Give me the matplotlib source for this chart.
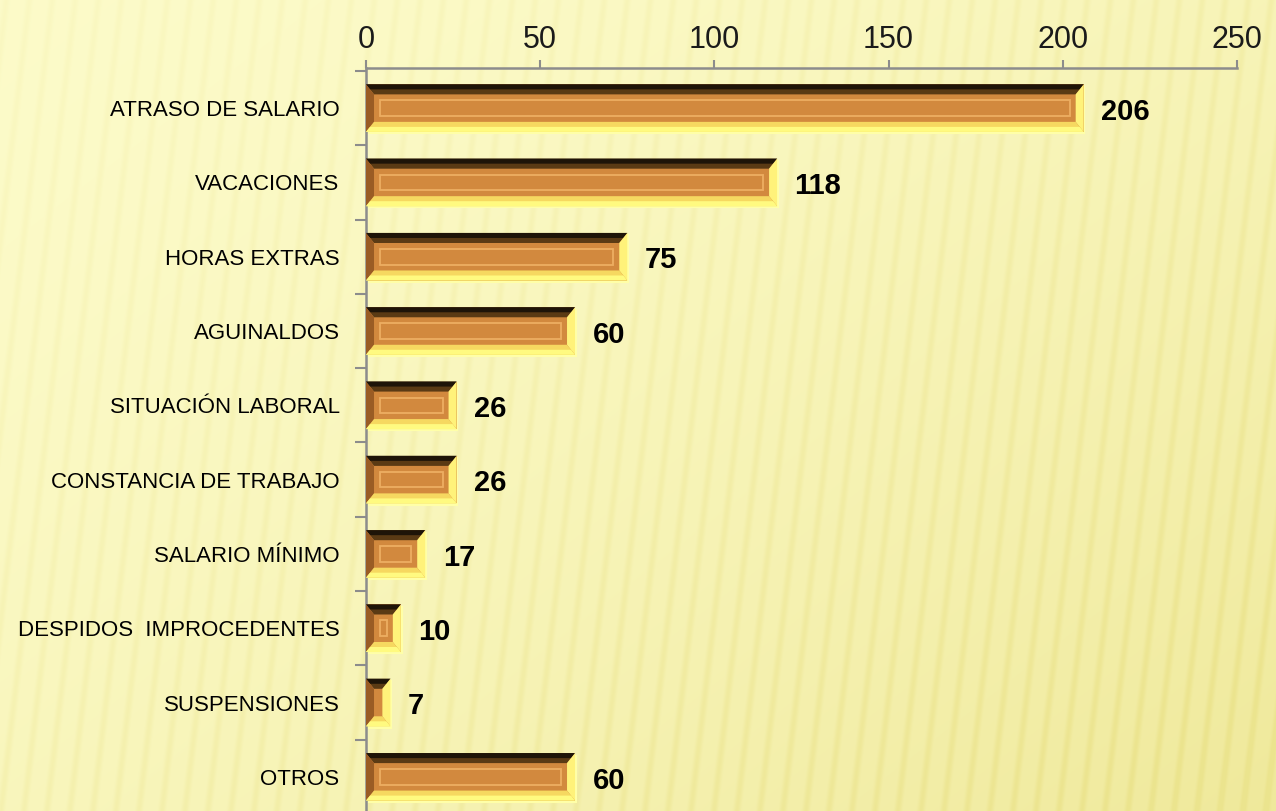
import numpy as np
import matplotlib
matplotlib.use("Agg")
import matplotlib.pyplot as plt
from matplotlib.patches import Polygon, Rectangle

categories = ["ATRASO DE SALARIO", "VACACIONES", "HORAS EXTRAS", "AGUINALDOS",
              "SITUACIÓN LABORAL", "CONSTANCIA DE TRABAJO", "SALARIO MÍNIMO",
              "DESPIDOS  IMPROCEDENTES", "SUSPENSIONES", "OTROS"]
values = [206, 118, 75, 60, 26, 26, 17, 10, 7, 60]
xticks = [0, 50, 100, 150, 200, 250]

W, H = 1276, 811
fig = plt.figure(figsize=(W / 100, H / 100), dpi=100)

# striped pale-yellow background
bg = fig.add_axes([0, 0, 1, 1], zorder=-10)
yy, xx = np.mgrid[0:H, 0:W]
diag = (xx / W * 0.55 + yy / H * 0.45)
light = np.array([0.992, 0.988, 0.800])
dark = np.array([0.925, 0.895, 0.560])
stripe = np.sin(2 * np.pi * (xx + 0.12 * yy) / 23.0)
stripe = np.clip(stripe, 0, 1) ** 2
t = 0.05 + 0.75 * diag ** 1.6 + 0.2 * stripe * (0.6 + diag)
t = np.clip(t, 0, 1)[..., None]
img = light * (1 - t) + dark * t
bg.imshow(img, aspect="auto", extent=[0, 1, 0, 1], origin="upper")
bg.axis("off")

ax = fig.add_axes([366 / W, -3 / H, 871 / W, 746 / H])
ax.patch.set_alpha(0)
n = len(categories)
pos = np.arange(n)
h = 0.64
dx, dy = 2.3, 0.135

ax.barh(pos, values, height=h, color="#D2893E", edgecolor="none", zorder=2)
for c, v in zip(pos, values):
    yt, yb = c - h / 2, c + h / 2
    ddx = min(dx, v / 2.2)
    # glow
    ax.add_patch(Polygon([(v, yt + 0.02), (v + 0.5, yt + 0.02), (v + 0.5, yb + 0.03),
                          (0.3, yb + 0.03), (0.3, yb), (v, yb)],
                         closed=True, fc="#FFFFA8", ec="none", zorder=2))
    # top (dark)
    ax.add_patch(Polygon([(0, yt), (v, yt), (v - ddx, yt + dy), (ddx, yt + dy)],
                         closed=True, fc="#5A3A14", ec="none", zorder=3))
    ax.add_patch(Polygon([(0, yt), (v, yt), (v - ddx * 0.5, yt + dy * 0.5), (ddx * 0.5, yt + dy * 0.5)],
                         closed=True, fc="#1E1408", ec="none", zorder=3))
    # left
    ax.add_patch(Polygon([(0, yt), (ddx, yt + dy), (ddx, yb - dy), (0, yb)],
                         closed=True, fc="#9A5C24", ec="none", zorder=3))
    # right
    ax.add_patch(Polygon([(v, yt), (v, yb), (v - ddx, yb - dy), (v - ddx, yt + dy)],
                         closed=True, fc="#FFF27A", ec="none", zorder=3))
    # bottom
    ax.add_patch(Polygon([(0, yb), (v, yb), (v - ddx, yb - dy), (ddx, yb - dy)],
                         closed=True, fc="#F6D860", ec="none", zorder=3))
    ax.add_patch(Polygon([(0, yb), (v, yb), (v - ddx * 0.5, yb - dy * 0.5), (ddx * 0.5, yb - dy * 0.5)],
                         closed=True, fc="#FFFA80", ec="none", zorder=3))
    # inner inset line
    iw = v - 2 * ddx - 3.4
    if iw > 0.4:
        ax.add_patch(Rectangle((ddx + 1.7, yt + dy + 0.08), iw, h - 2 * dy - 0.16,
                               fc="none", ec="#EDAE62", lw=1.3, zorder=4))
    ax.text(v + 5.0, c + 0.05, str(v), va="center", ha="left", fontsize=21,
            fontweight="bold", family="Liberation Sans", color="black", zorder=5)

ax.set_xlim(0, 250)
ax.set_ylim(-0.54 + 746 / 74.4, -0.54)
ax.xaxis.tick_top()
ax.set_xticks(xticks)
ax.set_xticklabels([str(x) for x in xticks], fontsize=22, family="Liberation Sans", color="#1A1A1A")
ax.tick_params(axis="x", direction="out", length=6, width=1.5, color="#8C8C8C", pad=3)

ax.set_yticks(pos)
ax.set_yticklabels(categories, fontsize=16, family="Liberation Sans", color="black")
ax.set_yticks(np.arange(-0.5, n, 1), minor=True)
ax.tick_params(axis="y", which="major", length=0, pad=19)
ax.tick_params(axis="y", which="minor", direction="out", length=8, width=1.5, color="#8C8C8C")

for s in ["right", "bottom"]:
    ax.spines[s].set_visible(False)
for s in ["top", "left"]:
    ax.spines[s].set_color("#8C8C8C")
    ax.spines[s].set_linewidth(1.8)

fig.savefig("out.png", dpi=100)
